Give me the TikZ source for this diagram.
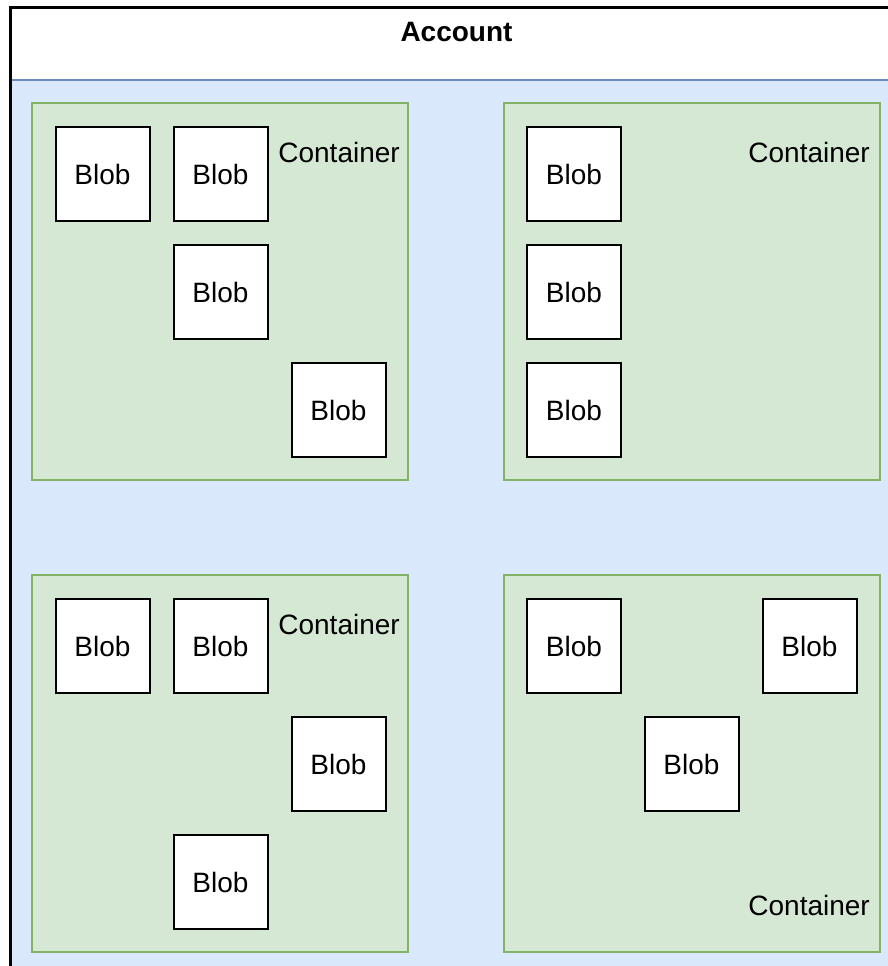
\documentclass[tikz,border=0pt]{standalone}
\usepackage{fontspec}
\setmainfont{Liberation Sans}
\definecolor{acctblue}{HTML}{DAE8FC}
\definecolor{acctline}{HTML}{6C8EBF}
\definecolor{contfill}{HTML}{D5E8D4}
\definecolor{contline}{HTML}{82B366}
\tikzset{
  bigfont/.style={font=\fontsize{28}{34}\selectfont},
  blobbox/.style={draw=black, fill=white, line width=2pt, minimum width=94pt, minimum height=94pt, inner sep=0pt, bigfont},
  contbox/.style={draw=contline, fill=contfill, line width=2pt, minimum width=376pt, minimum height=377pt, inner sep=0pt},
  contlabel/.style={bigfont, inner sep=0pt, anchor=base east},
}
\begin{document}
\begin{tikzpicture}[x=1pt,y=-1pt]
\useasboundingbox (0,0) rectangle (888,966);
% account swimlane
\fill[white] (10,7) rectangle (888,80);
\fill[acctblue] (10,80) rectangle (888,966);
\draw[acctline, line width=2pt] (10,80) -- (888,80);
\draw[black, line width=3pt] (10.5,966) -- (10.5,7.5) -- (888,7.5);
\node[bigfont, font=\fontsize{28}{34}\selectfont\bfseries, inner sep=0pt, anchor=base] (account) at (456.5,42) {Account};
% containers
\node[contbox] (c1) at (220,291.5) {};
\node[contbox] (c2) at (691.5,291.5) {};
\node[contbox] (c3) at (220,763.5) {};
\node[contbox] (c4) at (691.5,763.5) {};
\node[contlabel] (l1) at (400,162) {Container};
\node[contlabel] (l2) at (870,162) {Container};
\node[contlabel] (l3) at (400,634) {Container};
\node[contlabel] (l4) at (870,915) {Container};
% blobs top-left
\node[blobbox] (b11) at (102.5,174) {Blob};
\node[blobbox] (b12) at (220.5,174) {Blob};
\node[blobbox] (b13) at (220.5,292) {Blob};
\node[blobbox] (b14) at (338.5,410) {Blob};
% blobs top-right
\node[blobbox] (b21) at (574,174) {Blob};
\node[blobbox] (b22) at (574,292) {Blob};
\node[blobbox] (b23) at (574,410) {Blob};
% blobs bottom-left
\node[blobbox] (b31) at (102.5,646) {Blob};
\node[blobbox] (b32) at (220.5,646) {Blob};
\node[blobbox] (b33) at (338.5,764) {Blob};
\node[blobbox] (b34) at (220.5,882) {Blob};
% blobs bottom-right
\node[blobbox] (b41) at (574,646) {Blob};
\node[blobbox] (b42) at (809.5,646) {Blob};
\node[blobbox] (b43) at (691.5,764) {Blob};
\end{tikzpicture}
\end{document}
